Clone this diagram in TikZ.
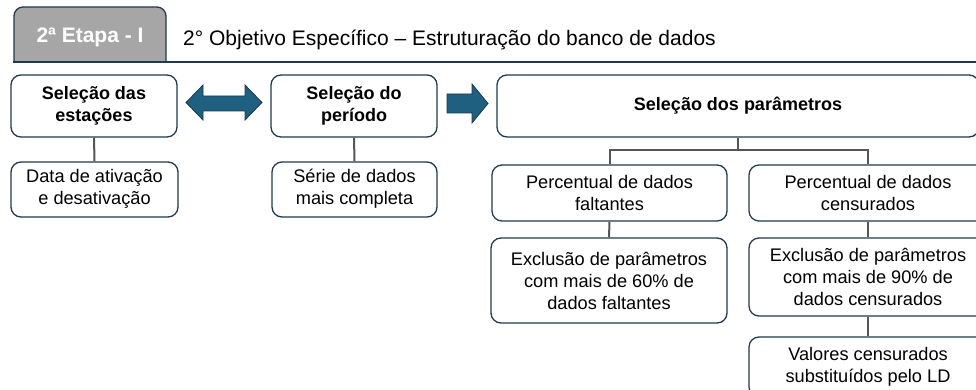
\documentclass[tikz,border=0pt]{standalone}
\usepackage{fontspec}
\setmainfont{Liberation Sans}
\begin{document}
\begin{tikzpicture}[x=1pt,y=-1pt,
  every node/.style={font=\fontsize{18.2}{22}\selectfont, text=black, inner sep=0pt},
  box/.style={draw=navy, line width=1.3pt, rounded corners=10pt, fill=white, align=center},
  bbox/.style={box, font=\fontsize{18}{22}\selectfont\bfseries},
  conn/.style={draw=connc, line width=2pt},
  arr/.style={fill=arrfill, draw=arrline, line width=0.8pt}]
\definecolor{navy}{HTML}{203A4C}
\definecolor{connc}{HTML}{555555}
\definecolor{arrfill}{HTML}{1F5F80}
\definecolor{arrline}{HTML}{1B3A4B}
\definecolor{tabgray}{HTML}{A6A6A6}
\useasboundingbox (0,0) rectangle (976,390);
\begin{scope}
\clip (0,0) rectangle (976,390);
% tab
\draw[draw=navy, line width=1.3pt, fill=tabgray, rounded corners=9pt] (14,62) -- (14,7) -- (166,7) -- (166,62);
\node[text=white, font=\fontsize{21}{24}\selectfont\bfseries] (tab) at (90,37) {2ª Etapa - I};
\draw[draw=navy, line width=2pt] (13,62) -- (976,62);
\node[anchor=west, font=\fontsize{21}{24}\selectfont] (title) at (183,40) {2° Objetivo Específico – Estruturação do banco de dados};
% boxes
\node[bbox, minimum width=166pt, minimum height=62pt] (b1) at (94,106) {Seleção das\\estações};
\node[bbox, minimum width=166pt, minimum height=62pt] (b2) at (354,106) {Seleção do\\período};
\node[box, minimum width=167pt, minimum height=55pt] (s1) at (94.5,189.5) {\raisebox{-3pt}{\begin{tabular}{@{}c@{}}Data de ativação\\[0pt]e desativação\end{tabular}}};
\node[box, minimum width=165pt, minimum height=55pt] (s2) at (354.5,189.5) {\raisebox{-3pt}{\begin{tabular}{@{}c@{}}Série de dados\\[0pt]mais completa\end{tabular}}};
\node[bbox, minimum width=482pt, minimum height=62pt] (b3) at (738,106) {Seleção dos parâmetros};
\node[box, minimum width=235pt, minimum height=56pt] (ca) at (609.5,193) {Percentual de dados\\faltantes};
\node[box, minimum width=238pt, minimum height=56pt] (cb) at (868,193) {Percentual de dados\\censurados};
\node[box, minimum width=236pt, minimum height=85pt] (a2) at (609,280.5) {Exclusão de parâmetros\\com mais de 60\% de\\dados faltantes};
\node[box, minimum width=238pt, minimum height=78pt] (b2b) at (868,277) {Exclusão de parâmetros\\com mais de 90\% de\\dados censurados};
\node[box, minimum width=238pt, minimum height=60pt] (b3b) at (868,367) {Valores censurados\\substituídos pelo LD};
% connectors
\draw[conn] (b1.south) -- (s1.north);
\draw[conn] (b2.south) -- (s2.north);
\coordinate (j) at (738,150);
\draw[conn] (b3.south) -- (j);
\draw[conn] (ca.north) |- (j) -| (cb.north);
\draw[conn] (ca.south) -- (a2.north);
\draw[conn] (cb.south) -- (b2b.north);
\draw[conn] (b2b.south) -- (b3b.north);
% arrows
\draw[arr] (186,102.5) -- (203,85) -- (203,96) -- (245,96) -- (245,85) -- (262,102.5) -- (245,120) -- (245,111) -- (203,111) -- (203,120) -- cycle;
\draw[arr] (447,94) -- (472,94) -- (472,84) -- (488,103.5) -- (472,123) -- (472,113) -- (447,113) -- cycle;
\end{scope}
\end{tikzpicture}
\end{document}
